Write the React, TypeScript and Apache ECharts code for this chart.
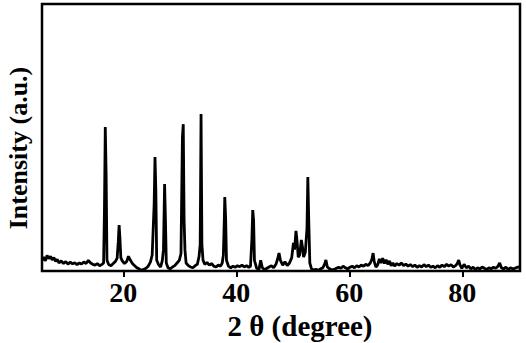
import React, { useEffect, useRef } from "react";
import * as echarts from "echarts";

const twoTheta: number[] = [
  5.6, 5.9, 6.2, 6.5, 6.8, 7.1, 7.4, 7.7, 8.0, 8.3, 8.6, 9.0, 9.4, 9.8, 10.2, 10.6, 11.0, 11.4, 11.8, 12.2,
  12.6, 13.0, 13.4, 13.8, 14.2, 14.6, 15.0, 15.4, 15.8, 16.2, 16.5, 16.65, 16.8, 16.95, 17.1, 17.4, 17.8, 18.2,
  18.6, 18.9, 19.1, 19.25, 19.4, 19.55, 19.8, 20.2, 20.6, 20.9, 21.2, 21.6, 22.0, 22.4, 22.8, 23.2, 23.6, 24.0,
  24.4, 24.8, 25.1, 25.45, 25.6, 25.75, 25.9, 26.2, 26.6, 26.9, 27.1, 27.3, 27.45, 27.6, 27.9, 28.3, 28.7, 29.1,
  29.5, 29.9, 30.2, 30.45, 30.6, 30.75, 30.9, 31.1, 31.5, 31.9, 32.3, 32.7, 33.1, 33.4, 33.6, 33.75, 33.9, 34.1,
  34.4, 34.8, 35.2, 35.6, 36.0, 36.4, 36.8, 37.2, 37.5, 37.7, 37.85, 37.95, 38.1, 38.25, 38.6, 39.0, 39.4, 39.8,
  40.2, 40.6, 41.0, 41.4, 41.8, 42.2, 42.5, 42.75, 42.9, 43.05, 43.2, 43.6, 44.0, 44.3, 44.6, 45.0, 45.4, 45.8,
  46.2, 46.6, 47.0, 47.3, 47.55, 47.8, 48.2, 48.6, 49.0, 49.4, 49.8, 50.1, 50.3, 50.55, 50.75, 50.95, 51.2, 51.5,
  51.7, 51.9, 52.2, 52.5, 52.65, 52.8, 53.0, 53.3, 53.7, 54.1, 54.5, 54.9, 55.3, 55.6, 55.85, 56.1, 56.5, 56.9,
  57.3, 57.7, 58.1, 58.5, 58.9, 59.3, 59.7, 60.1, 60.5, 60.9, 61.3, 61.7, 62.1, 62.5, 62.9, 63.3, 63.7, 64.0,
  64.2, 64.4, 64.7, 65.0, 65.3, 65.6, 65.9, 66.2, 66.5, 66.8, 67.1, 67.4, 67.7, 68.0, 68.4, 68.8, 69.2, 69.6,
  70.0, 70.4, 70.8, 71.2, 71.6, 72.0, 72.4, 72.8, 73.2, 73.6, 74.0, 74.4, 74.8, 75.2, 75.6, 76.0, 76.4, 76.8,
  77.2, 77.6, 78.0, 78.4, 78.8, 79.1, 79.35, 79.6, 79.9, 80.3, 80.7, 81.1, 81.5, 81.9, 82.3, 82.7, 83.1, 83.5,
  83.9, 84.3, 84.7, 85.1, 85.5, 85.9, 86.3, 86.6, 86.9, 87.3, 87.7, 88.1, 88.5, 88.9, 89.3, 89.7, 90.2,
];

const intensity: number[] = [
  40, 52, 38, 58, 46, 55, 42, 50, 36, 44, 30, 38, 28, 35, 26, 33, 27, 31, 24, 30,
  26, 34, 28, 40, 30, 25, 22, 28, 20, 24, 30, 220, 539, 360, 40, 24, 20, 28,
  36, 48, 110, 172, 120, 50, 38, 28, 36, 55, 42, 28, 20, 12, 8, 3, 6, 10,
  18, 34, 60, 250, 427, 300, 40, 25, 15, 40, 80, 326, 190, 30, 12, 8, 15, 20,
  30, 40, 65, 500, 550, 190, 80, 30, 20, 15, 12, 20, 25, 55, 100, 588, 100, 40,
  25, 32, 22, 28, 18, 15, 22, 18, 30, 60, 180, 277, 200, 40, 18, 12, 18, 14,
  20, 16, 22, 15, 20, 14, 18, 120, 228, 190, 40, 10, 6, 40, 12, 5, 10, 15,
  20, 12, 25, 45, 67, 40, 22, 35, 20, 30, 50, 105, 80, 150, 110, 52, 60, 116,
  90, 52, 70, 160, 352, 200, 30, 8, 4, 6, 3, 8, 12, 25, 41, 15, 8, 4,
  6, 10, 14, 10, 18, 12, 8, 14, 18, 12, 20, 15, 22, 18, 25, 20, 30, 45,
  67, 35, 15, 22, 45, 30, 48, 28, 42, 25, 38, 20, 30, 18, 28, 22, 30, 20,
  26, 18, 24, 16, 22, 14, 20, 15, 24, 16, 22, 14, 18, 12, 20, 14, 22, 16,
  25, 18, 24, 15, 20, 28, 41, 22, 10, 25, 12, 18, 8, 14, 6, 12, 8, 15,
  10, 6, 12, 8, 14, 10, 18, 30, 12, 8, 14, 6, 12, 8, 10, 14, 15,
];

const xTickValues: number[] = [20, 40, 60, 80];
const xTitle = "2 θ (degree)";
const yTitle = "Intensity (a.u.)";

const FONT = "'Liberation Serif', 'Times New Roman', serif";

export default function App() {
  const ref = useRef<HTMLDivElement>(null);

  useEffect(() => {
    if (!ref.current) return;
    const chart = echarts.init(ref.current, null, { renderer: "svg" });
    const data = twoTheta.map((t, i) => [t, intensity[i]]);
    chart.setOption({
      animation: false,
      backgroundColor: "#fff",
      grid: {
        left: 42,
        top: 4,
        width: 478,
        height: 267,
        show: true,
        borderColor: "#000",
        borderWidth: 2.5,
        backgroundColor: "transparent",
      },
      xAxis: {
        type: "value",
        min: 5.6,
        max: 90.2,
        splitLine: { show: false },
        axisLine: { show: false },
        axisTick: {
          show: true,
          customValues: xTickValues,
          inside: false,
          length: 6,
          lineStyle: { color: "#000", width: 2 },
        },
        axisLabel: {
          show: true,
          customValues: xTickValues,
          margin: 7,
          color: "#000",
          fontFamily: FONT,
          fontWeight: "bold",
          fontSize: 28,
        },
      },
      yAxis: {
        type: "value",
        min: 0,
        max: 1000,
        splitLine: { show: false },
        axisLine: { show: false },
        axisTick: { show: false },
        axisLabel: { show: false },
      },
      graphic: [
        {
          type: "text",
          x: 300,
          y: 326,
          style: {
            text: xTitle,
            fill: "#000",
            font: `bold 29px ${FONT}`,
            align: "center",
            verticalAlign: "middle",
          },
        },
        {
          type: "text",
          x: 18,
          y: 148,
          rotation: Math.PI / 2,
          style: {
            text: yTitle,
            fill: "#000",
            font: `bold 26px ${FONT}`,
            align: "center",
            verticalAlign: "middle",
          },
        },
      ],
      series: [
        {
          type: "line",
          data,
          showSymbol: false,
          symbol: "none",
          lineStyle: { color: "#000", width: 2.8 },
          z: 1,
        },
      ],
    });
    return () => chart.dispose();
  }, []);

  return (
    <div
      ref={ref}
      style={{ position: "fixed", left: 0, top: 0, width: 526, height: 343 }}
    />
  );
}
